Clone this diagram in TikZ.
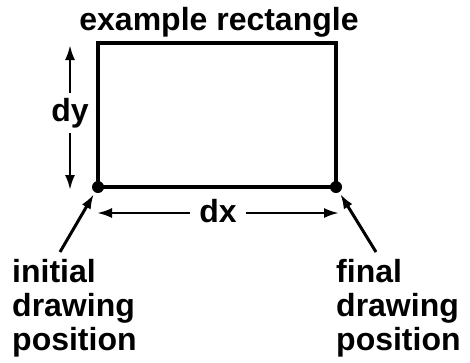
\documentclass[tikz,border=0pt]{standalone}
\usepackage{fontspec}
\setmainfont{Liberation Sans}
\usetikzlibrary{positioning,arrows.meta}

\begin{document}
\begin{tikzpicture}[
  x=1pt, y=-1pt,
  lbl/.style={font=\fontsize{32}{34}\selectfont\bfseries, inner sep=0pt},
  dimarrow/.style={-{Latex[length=15pt,width=10pt]}, line width=2.5pt},
  ptr/.style={-{Latex[length=15pt,width=10pt]}, line width=3pt}
]
\useasboundingbox (0,0) rectangle (470,362);
% the rectangle and its two drawing positions
\coordinate (sw) at (98,187);
\coordinate (ne) at (336,43);
\coordinate (se) at (336,187);
\draw[line width=4.5pt] (sw) rectangle (ne);
\fill (sw) circle (6pt);
\fill (se) circle (6pt);
\node[lbl, anchor=base] (title) at (219,30) {example rectangle};
% dimensions
\node[lbl, inner sep=5pt] (dy) at (70,113) {dy};
\coordinate (dytop) at (70,45);
\coordinate (dybot) at (70,190);
\draw[dimarrow] (dy.north) -- (dytop);
\draw[dimarrow] (dy.south) -- (dybot);
\node[lbl, inner xsep=9pt] (dx) at (218,211) {dx};
\coordinate (dxl) at (97,213);
\coordinate (dxr) at (339,213);
\draw[dimarrow] (dx.west |- dxl) -- (dxl);
\draw[dimarrow] (dx.east |- dxr) -- (dxr);
% start and end labels
\node[lbl, anchor=base west, align=left] (initial) at (12,350)
  {initial\\drawing\\position};
\node[lbl, anchor=base west, align=left] (final) at (336,350)
  {final\\drawing\\position};
\coordinate (ptrA) at (60,252);
\coordinate (ptrB) at (376,252);
\draw[ptr, shorten >=8pt] (ptrA) -- (sw);
\draw[ptr, shorten >=8pt] (ptrB) -- (se);
\end{tikzpicture}
\end{document}
